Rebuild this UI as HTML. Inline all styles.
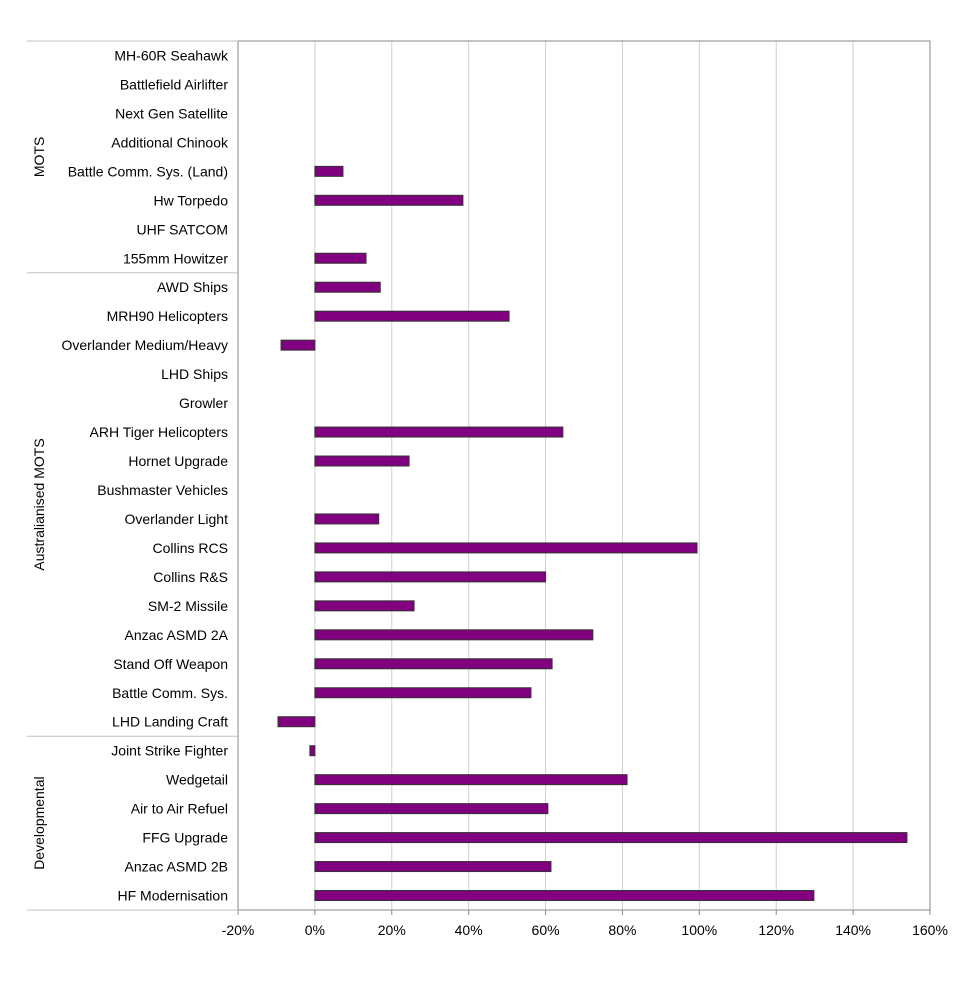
<!DOCTYPE html>
<html><head><meta charset="utf-8"><style>
body{margin:0;background:#fff;}
text{font-family:"Liberation Sans",sans-serif;font-size:14px;fill:#000;}
</style></head><body>
<svg id="chart" width="977" height="976"></svg>
<script>
const categories=["MH-60R Seahawk","Battlefield Airlifter","Next Gen Satellite","Additional Chinook","Battle Comm. Sys. (Land)","Hw Torpedo","UHF SATCOM","155mm Howitzer","AWD Ships","MRH90 Helicopters","Overlander Medium/Heavy","LHD Ships","Growler","ARH Tiger Helicopters","Hornet Upgrade","Bushmaster Vehicles","Overlander Light","Collins RCS","Collins R&S","SM-2 Missile","Anzac ASMD 2A","Stand Off Weapon","Battle Comm. Sys.","LHD Landing Craft","Joint Strike Fighter","Wedgetail","Air to Air Refuel","FFG Upgrade","Anzac ASMD 2B","HF Modernisation"];
const values=[null,null,null,null,7.3,38.5,null,13.3,17,50.5,-8.8,null,null,64.5,24.5,null,16.6,99.4,60,25.8,72.3,61.7,56.2,-9.6,-1.3,81.2,60.6,154,61.4,129.8];
const ticks=[-20,0,20,40,60,80,100,120,140,160];
const tickLabels=["-20%","0%","20%","40%","60%","80%","100%","120%","140%","160%"];
const groups=["MOTS","Australianised MOTS","Developmental"];
const groupStarts=[0,8,24];
const groupEnds=[8,24,30];
const NS="http://www.w3.org/2000/svg";
const svg=document.getElementById("chart");
const L=238,R=930,T=41,B=910;
const x=v=>L+(v-ticks[0])/(ticks[ticks.length-1]-ticks[0])*(R-L);
const rowH=(B-T)/categories.length;
const y=i=>T+rowH*(i+0.5);
function el(tag,attrs){const e=document.createElementNS(NS,tag);for(const k in attrs)e.setAttribute(k,attrs[k]);svg.appendChild(e);return e;}
ticks.forEach((t,i)=>{
  const g=el("line",{x1:x(t),x2:x(t),y1:T,y2:B,stroke:"#d0d0d0","stroke-width":1});
  
  
  const tk=el("line",{x1:x(t),x2:x(t),y1:B,y2:B+5,stroke:"#888"});
  
  
  const tx=el("text",{x:x(t),y:B+25,"text-anchor":"middle"});
  tx.textContent=tickLabels[i];
  
  
});
const fr=el("rect",{x:L,y:T,width:R-L,height:B-T,fill:"none",stroke:"#888"});


categories.forEach((c,i)=>{
  const t=el("text",{x:228,y:y(i)+5,"text-anchor":"end"});
  t.textContent=c;
  
  
  const v=values[i];
  if(v!==null){
    const b=el("rect",{x:Math.min(x(0),x(v)),y:y(i)-5,width:Math.abs(x(v)-x(0)),height:10,fill:"#800080",stroke:"#333","stroke-width":1});
    
    
  }
});
groups.forEach((g,i)=>{
  const ys=T+groupStarts[i]*rowH, ye=T+groupEnds[i]*rowH;
  const ln=el("line",{x1:27,x2:L,y1:ys,y2:ys,stroke:"#c0c0c0"});
  
  
  const cy=(ys+ye)/2;
  const t=el("text",{x:44,y:cy,"text-anchor":"middle",transform:`rotate(-90 44 ${cy})`});
  t.textContent=g;
  
  
});
const lb=el("line",{x1:27,x2:L,y1:B,y2:B,stroke:"#c0c0c0"});


</script>
</body></html>
